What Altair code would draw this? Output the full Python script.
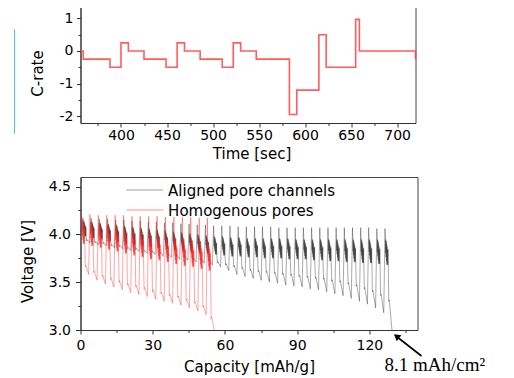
import altair as alt
import pandas as pd

# ---------------- top panel: C-rate profile ----------------
time_s = [356, 359, 388, 400, 408, 425, 449, 461, 469, 486, 510, 522, 530, 547,
          583, 591, 615, 623, 655, 659, 720]
c_rate = [0, -0.25, -0.5, 0.25, 0, -0.25, -0.5, 0.25, 0, -0.25, -0.5, 0.25, 0, -0.25,
          -1.95, -1.2, 0.5, -0.5, 0.97, 0, -0.25]
top_x_ticks = [375, 400, 425, 450, 475, 500, 525, 550, 575, 600, 625, 650, 675, 700]
top_y_ticks = [-2, -1.5, -1, -0.5, 0, 0.5, 1]

# ---------------- bottom panel: pulse voltage curves ----------------
# spike (pulse start) positions [mAh/g] and per-pulse voltage levels [V]
aligned_cap = [1.0, 4.4, 7.8, 11.2, 14.6, 18.0, 21.4, 24.8, 28.2, 31.5, 34.9, 38.3, 41.7,
               45.1, 48.5, 51.9, 55.3, 58.7, 62.1, 65.5, 68.9, 72.3, 75.6, 79.0, 82.4,
               85.8, 89.2, 92.6, 96.0, 99.4, 102.8, 106.2, 109.6, 113.0, 116.4, 119.7,
               123.1, 126.5]
aligned_top = [4.17, 4.17, 4.16, 4.16, 4.15, 4.15, 4.14, 4.14, 4.13, 4.13, 4.12, 4.12, 4.11,
               4.11, 4.10, 4.10, 4.09, 4.09, 4.09, 4.08, 4.08, 4.08, 4.08, 4.08, 4.07,
               4.07, 4.07, 4.07, 4.07, 4.07, 4.07, 4.07, 4.07, 4.07, 4.07, 4.07, 4.06, 4.06]
aligned_band_hi = [4.15, 4.14, 4.13, 4.12, 4.11, 4.10, 4.09, 4.08, 4.07, 4.06, 4.05, 4.04,
                   4.03, 4.02, 4.01, 4.00, 3.99, 3.99, 3.98, 3.98, 3.97, 3.97, 3.97, 3.97,
                   3.97, 3.97, 3.96, 3.96, 3.96, 3.96, 3.96, 3.96, 3.96, 3.96, 3.96, 3.96,
                   3.96, 3.96]
aligned_band_lo = [3.98, 3.96, 3.95, 3.93, 3.92, 3.90, 3.89, 3.88, 3.87, 3.86, 3.85, 3.84,
                   3.83, 3.82, 3.81, 3.80, 3.79, 3.78, 3.77, 3.77, 3.76, 3.76, 3.75, 3.75,
                   3.75, 3.74, 3.74, 3.74, 3.73, 3.73, 3.72, 3.72, 3.71, 3.71, 3.70, 3.70,
                   3.69, 3.68]
aligned_hook = [3.93, 3.91, 3.90, 3.88, 3.87, 3.85, 3.84, 3.82, 3.81, 3.80, 3.78, 3.77,
                3.76, 3.74, 3.73, 3.72, 3.70, 3.68, 3.66, 3.64, 3.62, 3.61, 3.60, 3.59,
                3.58, 3.57, 3.56, 3.55, 3.54, 3.53, 3.51, 3.50, 3.48, 3.46, 3.43, 3.40,
                3.36, 3.30]
aligned_low = [3.91, 3.89, 3.88, 3.86, 3.85, 3.83, 3.82, 3.80, 3.79, 3.77, 3.76, 3.74,
               3.73, 3.71, 3.70, 3.68, 3.66, 3.62, 3.58, 3.56, 3.54, 3.52, 3.50, 3.49,
               3.47, 3.46, 3.45, 3.43, 3.42, 3.40, 3.38, 3.36, 3.33, 3.30, 3.27, 3.23,
               3.18, 3.00]
aligned_start = 4.02

homog_cap = [0.4, 3.9, 7.4, 10.9, 14.4, 17.9, 21.4, 24.8, 28.3, 31.8, 35.3, 38.8, 42.3,
             45.8, 49.3, 52.7]
homog_top = [4.21, 4.21, 4.20, 4.20, 4.20, 4.20, 4.19, 4.19, 4.19, 4.19, 4.18, 4.18,
             4.18, 4.18, 4.17, 4.17]
homog_band_hi = [4.17, 4.15, 4.13, 4.11, 4.09, 4.07, 4.05, 4.04, 4.02, 4.01, 3.99, 3.98,
                 3.97, 3.96, 3.95, 3.94]
homog_band_lo = [3.90, 3.88, 3.86, 3.84, 3.82, 3.80, 3.78, 3.76, 3.74, 3.73, 3.71, 3.69,
                 3.67, 3.66, 3.64, 3.62]
homog_hook = [3.66, 3.60, 3.56, 3.53, 3.50, 3.47, 3.45, 3.43, 3.40, 3.38, 3.36, 3.34,
              3.31, 3.28, 3.24, 3.12]
homog_low = [3.58, 3.52, 3.48, 3.45, 3.42, 3.39, 3.37, 3.35, 3.32, 3.30, 3.28, 3.26,
             3.23, 3.20, 3.16, 3.00]
homog_start = 4.14

series_names = ["Aligned pore channels", "Homogenous pores"]
series_colors = ["#2a2a2a", "#ff2020"]

bot_x_ticks = [0, 15, 30, 45, 60, 75, 90, 105, 120, 135]
bot_y_ticks = [3.0, 3.25, 3.5, 3.75, 4.0, 4.25, 4.5]


def pulse_rows(name, start_v, caps, tops, b_hi, b_lo, hooks, lows):
    rows = [(name, 0.0, start_v)]
    n = len(caps)
    for i in range(n):
        x0 = caps[i]
        w = (caps[i + 1] - caps[i]) if i < n - 1 else (caps[i] - caps[i - 1])
        hi, lo = b_hi[i], b_lo[i]
        d = hi - lo
        # charge spike, then a dense band of short rest/discharge steps,
        # then the deep discharge dip with a small relaxation hook
        shape = [(0.00, tops[i]), (0.04, hi)]
        zig = [0.55, 0.05, 0.70, 0.10, 0.85, 0.20, 1.0, 0.30, 0.95, 0.45, 1.0, 0.40, 1.0]
        for k, frac in enumerate(zig):
            shape.append((0.06 + 0.028 * k, hi - frac * d))
        shape += [
            (0.46, hooks[i]),
            (0.52, hooks[i] + 0.015),
            (0.85, lows[i]),
        ]
        for f, v in shape:
            rows.append((name, x0 + f * w, v))
    return rows


rows = pulse_rows(series_names[0], aligned_start, aligned_cap, aligned_top,
                  aligned_band_hi, aligned_band_lo, aligned_hook, aligned_low)
rows += pulse_rows(series_names[1], homog_start, homog_cap, homog_top,
                   homog_band_hi, homog_band_lo, homog_hook, homog_low)
volt_df = pd.DataFrame(rows, columns=["series", "cap", "volt"])
volt_df["idx"] = range(len(volt_df))

top_df = pd.DataFrame({"t": time_s, "c": c_rate})
one = pd.DataFrame({"k": [0]})

FONT = "DejaVu Sans"

# ---------------- top chart ----------------
top_line = alt.Chart(top_df).mark_line(
    interpolate="step-after", color="#ff4040", strokeWidth=1.6, opacity=0.85
).encode(
    x=alt.X("t:Q", scale=alt.Scale(domain=[356, 720], nice=False, zero=False),
            axis=alt.Axis(values=top_x_ticks, title="Time [sec]",
                          labelExpr="datum.value % 50 == 0 ? toString(datum.value) : ''",
                          tickSize={"condition": {"test": "datum.value % 50 != 0", "value": 2.5}, "value": 4},
                          labelPadding=1, titlePadding=4, titleX=171)),
    y=alt.Y("c:Q", scale=alt.Scale(domain=[-2.21, 1.35], nice=False, zero=False),
            axis=alt.Axis(values=top_y_ticks, title="C-rate",
                          labelExpr="datum.value % 1 == 0 ? toString(datum.value) : ''",
                          tickSize={"condition": {"test": "datum.value % 1 != 0", "value": 2.5}, "value": 4},
                          labelPadding=3.5, titlePadding=13.5, titleY=66)),
)

blue_rule = alt.Chart(one).mark_rule(color="#55c4f0", strokeWidth=1).encode(
    x=alt.value(-66), y=alt.value(22), y2=alt.value(127)
)

top = alt.layer(top_line, blue_rule).properties(width=335, height=116)

# ---------------- bottom chart ----------------
volt_lines = alt.Chart(volt_df).mark_line(strokeWidth=0.8, opacity=0.5).encode(
    x=alt.X("cap:Q", scale=alt.Scale(domain=[0, 140], nice=False, zero=False),
            axis=alt.Axis(values=bot_x_ticks, title="Capacity [mAh/g]",
                          labelExpr="datum.value % 30 == 0 ? toString(datum.value) : ''",
                          tickSize={"condition": {"test": "datum.value % 30 != 0", "value": 2.5}, "value": 4},
                          labelPadding=4.5, titlePadding=7)),
    y=alt.Y("volt:Q", scale=alt.Scale(domain=[3.0, 4.6], nice=False, zero=False),
            axis=alt.Axis(values=bot_y_ticks, title="Voltage [V]",
                          labelExpr="(datum.value * 4) % 2 == 0 ? format(datum.value, '.1f') : ''",
                          tickSize={"condition": {"test": "(datum.value * 4) % 2 != 0", "value": 2.5}, "value": 5},
                          labelPadding=5, titlePadding=13, titleY=84)),
    color=alt.Color("series:N", scale=alt.Scale(domain=series_names, range=series_colors), legend=None),
    detail="series:N",
    order="idx:Q",
)

leg_line1 = alt.Chart(one).mark_rule(color=series_colors[0], opacity=0.45, strokeWidth=1).encode(
    x=alt.value(46), x2=alt.value(82.6), y=alt.value(13))
leg_text1 = alt.Chart(one).mark_text(align="left", baseline="middle", font=FONT, fontSize=15,
                                     color="black").encode(
    x=alt.value(87.6), y=alt.value(14), text=alt.value(series_names[0]))
leg_line2 = alt.Chart(one).mark_rule(color=series_colors[1], opacity=0.5, strokeWidth=1).encode(
    x=alt.value(46), x2=alt.value(82.6), y=alt.value(33))
leg_text2 = alt.Chart(one).mark_text(align="left", baseline="middle", font=FONT, fontSize=15,
                                     color="black").encode(
    x=alt.value(87.6), y=alt.value(34), text=alt.value(series_names[1]))

note = alt.Chart(one).mark_text(align="left", baseline="alphabetic", font="Liberation Serif",
                                fontSize=19, color="black").encode(
    x=alt.value(304), y=alt.value(194), text=alt.value("8.1 mAh/cm²"))
arrow_line = alt.Chart(one).mark_rule(color="black", strokeWidth=1.6).encode(
    x=alt.value(316), y=alt.value(159.5), x2=alt.value(341), y2=alt.value(179))
arrow_head = alt.Chart(one).mark_point(shape="triangle-up", filled=True, color="black",
                                       size=55, angle=308, opacity=1).encode(
    x=alt.value(316), y=alt.value(159.3))

bottom = alt.layer(volt_lines, leg_line1, leg_text1, leg_line2, leg_text2,
                   note, arrow_line, arrow_head).properties(width=337, height=153)

chart = alt.vconcat(top, bottom, spacing=14).properties(
    padding={"left": 5.5, "top": -2, "right": 0, "bottom": 0}
).configure_view(
    stroke="#444", strokeWidth=1
).configure_axis(
    labelFont=FONT, labelFontSize=14, labelColor="black",
    titleFont=FONT, titleFontSize=15, titleFontWeight="normal", titleColor="black",
    domainColor="#333", tickColor="#333", grid=False, labelFlush=False
)

chart.save("out.html", embed_options={"renderer": "svg", "actions": False})
